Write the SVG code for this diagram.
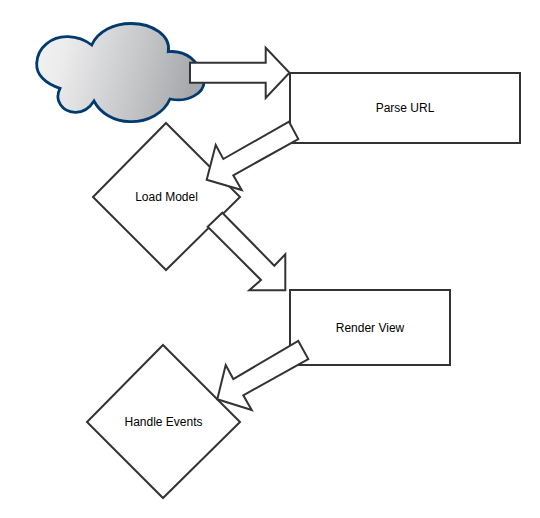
<svg xmlns="http://www.w3.org/2000/svg" width="540" height="518" viewBox="0 0 540 518">
<style>
.s{fill:#fff;stroke:#333;stroke-width:2}
.t{font-family:"Liberation Sans",Arial,sans-serif;font-size:12px;fill:#000;text-anchor:middle}
</style>
<defs>
<linearGradient id="g" x1="0" y1="0" x2="1" y2="0.15"><stop offset="0" stop-color="#f2f2f2"/><stop offset="0.2" stop-color="#ececed"/><stop offset="0.65" stop-color="#c6c7c9"/><stop offset="1" stop-color="#a6a8ab"/></linearGradient>
</defs>
<rect width="540" height="518" fill="#fff"/>
<g id="cloud"><path d="M91.700 45C98 31 114 23.500 131 23.500C153 23.500 171 36 168.300 51.700C185 50 200 60 204 82C204 93 188 103 170 99C164 113 148 122 130 121.700C114 121.500 100 113 94 101C89 109 82 112.500 75 112.300C62 112 54 100 60 88.300C46 84 36 75 36.700 63.300C37.500 47 52 36 68.300 36.700C77 37 85 40 91.700 45Z" fill="url(#g)" stroke="#003b70" stroke-width="2.800"/></g>
<g id="parse-url"><rect class="s" x="290" y="73" width="230" height="70"/><text class="t" x="405" y="112">Parse URL</text></g>
<g id="load-model"><path class="s" d="M166 123L240 197L166 270L93 197Z"/><text class="t" x="166.500" y="201">Load Model</text></g>
<g id="render-view"><rect class="s" x="290" y="290" width="160" height="75"/><text class="t" x="370" y="332">Render View</text></g>
<g id="handle-events"><path class="s" d="M163 345L240 422L163 498L87 422Z"/><text class="t" x="163.500" y="426">Handle Events</text></g>
<g id="connectors">
<path class="s" d="M190 62.700H265.700V47.700L289.500 72.700L265.700 98V82.700H190Z"/>
<path class="s" d="M289 121.700L298.300 139L233.300 175.300L241.700 190L206.700 179.700L215.700 145L223.300 159Z"/>
<path class="s" d="M222.300 212.700L274.300 265.700L285.300 254.300V290.300H249.300L261 280L207.700 226.700Z"/>
<path class="s" d="M298.300 341L308.300 359L243.300 395.300L251.700 410L217.300 399.300L225.700 365L233.300 379Z"/>
</g>
</svg>
